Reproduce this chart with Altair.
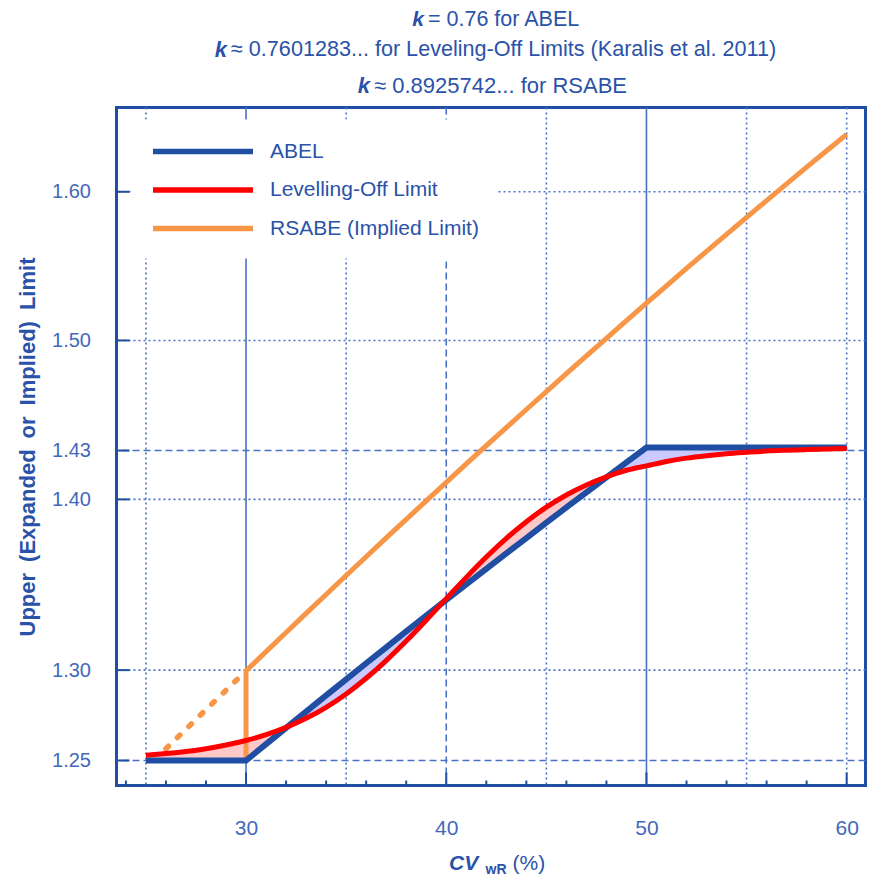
import altair as alt
import pandas as pd

# ---------------- data ----------------
cv = [25, 26, 27, 28, 29, 30, 31, 32, 33, 34, 35, 36, 37, 38, 39, 40, 41, 42,
      43, 44, 45, 46, 47, 48, 49, 50, 51, 52, 53, 54, 55, 56, 57, 58, 59, 60]
abel = [1.2500, 1.2500, 1.2500, 1.2500, 1.2500, 1.2500, 1.2589, 1.2678, 1.2768,
        1.2858, 1.2948, 1.3039, 1.3129, 1.3220, 1.3311, 1.3402, 1.3493, 1.3584,
        1.3676, 1.3767, 1.3859, 1.3951, 1.4043, 1.4135, 1.4227, 1.4319, 1.4319,
        1.4319, 1.4319, 1.4319, 1.4319, 1.4319, 1.4319, 1.4319, 1.4319, 1.4319]
levelling = [1.2529, 1.2538, 1.2549, 1.2564, 1.2584, 1.2609, 1.2641, 1.2681, 1.2731,
             1.2792, 1.2866, 1.2954, 1.3054, 1.3165, 1.3285, 1.3410, 1.3534, 1.3654,
             1.3765, 1.3865, 1.3953, 1.4027, 1.4088, 1.4138, 1.4178, 1.4205, 1.4232,
             1.4253, 1.4268, 1.4280, 1.4289, 1.4297, 1.4302, 1.4306, 1.4309, 1.4312]
rsabe_cv = [30, 30, 31, 32, 33, 34, 35, 36, 37, 38, 39, 40, 41, 42, 43, 44, 45,
            46, 47, 48, 49, 50, 51, 52, 53, 54, 55, 56, 57, 58, 59, 60]
rsabe = [1.2500, 1.2996, 1.3105, 1.3214, 1.3324, 1.3434, 1.3545, 1.3656, 1.3768,
         1.3879, 1.3991, 1.4104, 1.4217, 1.4330, 1.4443, 1.4557, 1.4671, 1.4785,
         1.4900, 1.5014, 1.5129, 1.5245, 1.5360, 1.5476, 1.5591, 1.5707, 1.5823,
         1.5939, 1.6055, 1.6172, 1.6287, 1.6404]
rsabe_ext_cv = [26, 27, 28, 29, 30]
rsabe_ext = [1.2564, 1.2671, 1.2779, 1.2887, 1.2996]

series = ["ABEL", "Levelling-Off Limit", "RSABE (Implied Limit)"]
series_colors = ["#1f4ea3", "#ff0000", "#f79646"]

vgrid_x = [25, 30, 35, 40, 45, 50, 55, 60]
vgrid_style = ["dot", "solid", "dot", "dash", "dot", "solid", "dot", "dot"]
hgrid_y = [1.25, 1.30, 1.40, 1.43, 1.50, 1.60]
hgrid_style = ["dash", "dot", "dot", "dash", "dot", "dot"]
x_major = [30, 40, 50, 60]
x_minor = [24, 26, 28, 32, 34, 36, 38, 42, 44, 46, 48, 52, 54, 56, 58]

# ---------------- tables ----------------
df_abel = pd.DataFrame({"cv": cv, "val": abel, "series": series[0]})
df_lev = pd.DataFrame({"cv": cv, "val": levelling, "series": series[1]})
df_rs = pd.DataFrame({"cv": rsabe_cv, "val": rsabe, "series": series[2],
                      "i": list(range(len(rsabe_cv)))})
df_ext = pd.DataFrame({"cv": rsabe_ext_cv, "val": rsabe_ext})
df_fill = pd.DataFrame({"cv": cv, "abel": abel, "lev": levelling,
                        "hi": [max(a, b) for a, b in zip(abel, levelling)]})
df_vg = pd.DataFrame({"cv": vgrid_x, "style": vgrid_style})
df_hg = pd.DataFrame({"val": hgrid_y, "style": hgrid_style})
df_xmaj = pd.DataFrame({"cv": x_major})
df_xmin = pd.DataFrame({"cv": x_minor})
df_yt = pd.DataFrame({"val": hgrid_y})

W, H = 749, 678
FRAME = "#1f4ea3"
GRID = "#4a72c4"
TXT = "#2a52a8"
LAB = "#4468bb"
FONT = "Liberation Sans"
SP = "\u2002"

xs = alt.Scale(domain=[23.53, 60.94], nice=False, zero=False)
ys = alt.Scale(type="log", domain=[1.2365, 1.6596], nice=False, zero=False)
xaxis = alt.Axis(values=x_major, ticks=False, domain=False, grid=False,
                 labelPadding=32, labelFontSize=21, labelColor=LAB,
                 labelFont=FONT, title=None)
yaxis = alt.Axis(values=hgrid_y, format=".2f", ticks=False, domain=False,
                 grid=False, labelPadding=26, labelFontSize=20,
                 labelColor=LAB, labelFont=FONT,
                 title=SP.join(["Upper", "(Expanded", "or", "Implied)", "Limit"]),
                 titleFont=FONT, titleFontSize=22,
                 titleFontWeight="bold", titleColor=TXT,
                 titleX=-89, titleY=H / 2, titleAngle=270,
                 titleBaseline="middle", titleAlign="center")
X = alt.X("cv:Q", scale=xs, axis=xaxis)
Y = alt.Y("val:Q", scale=ys, axis=yaxis)

dash_scale = alt.Scale(domain=["solid", "dash", "dot"],
                       range=[[1, 0], [7, 4], [2, 3]])
color_scale = alt.Scale(domain=series, range=series_colors)

# ---------------- layers ----------------
vgrid = alt.Chart(df_vg).mark_rule(color=GRID, strokeWidth=1.6).encode(
    x=X, strokeDash=alt.StrokeDash("style:N", scale=dash_scale, legend=None))
hgrid = alt.Chart(df_hg).mark_rule(color=GRID, strokeWidth=1.6).encode(
    y=Y, strokeDash=alt.StrokeDash("style:N", scale=dash_scale, legend=None))

fill_pink = alt.Chart(df_fill).mark_area(color="#ffc9c9", opacity=1).encode(
    x=X, y=alt.Y("abel:Q", scale=ys, axis=yaxis), y2="hi:Q")
fill_blue = alt.Chart(df_fill).mark_area(color="#cacaff", opacity=1).encode(
    x=X, y=alt.Y("lev:Q", scale=ys, axis=yaxis), y2="hi:Q")

legend = alt.Legend(
    title=None, orient="none", legendX=14.5, legendY=12,
    symbolType="M-1,0H9", symbolSize=400, symbolStrokeWidth=5.5,
    labelOffset=94, labelFontSize=21, labelFont=FONT,
    labelColor=TXT, labelLimit=400, fillColor="white", padding=19,
    rowPadding=14.5,
)
C = alt.Color("series:N", scale=color_scale, legend=legend)

line_rs = alt.Chart(df_rs).mark_line(strokeWidth=5, strokeCap="butt").encode(
    x=X, y=Y, order="i:Q", color=C)
line_ext = alt.Chart(df_ext).mark_line(
    strokeWidth=5.5, strokeDash=[3.5, 12.5], strokeCap="round", color="#f79646"
).encode(x=X, y=Y)
line_abel = alt.Chart(df_abel).mark_line(strokeWidth=6).encode(x=X, y=Y, color=C)
line_lev = alt.Chart(df_lev).mark_line(strokeWidth=5, interpolate="monotone").encode(
    x=X, y=Y, color=C)

tick_major = alt.Chart(df_xmaj).mark_rule(color=FRAME, strokeWidth=2).encode(
    x=X, y=alt.value(H), y2=alt.value(H - 13))
tick_minor = alt.Chart(df_xmin).mark_rule(color=FRAME, strokeWidth=2).encode(
    x=X, y=alt.value(H), y2=alt.value(H - 5))
tick_y = alt.Chart(df_yt).mark_rule(color=FRAME, strokeWidth=2).encode(
    y=Y, x=alt.value(0), x2=alt.value(13))


def txt(s, x, y, size=22, font=FONT, style="normal", weight="normal",
        align="left", color=TXT):
    return alt.Chart(pd.DataFrame({"s": [s]})).mark_text(
        fontSize=size, font=font, fontStyle=style, fontWeight=weight,
        align=align, baseline="middle", color=color
    ).encode(x=alt.value(x), y=alt.value(y), text="s:N")


titles = [
    txt("k", 307.5, -87.5, size=21, style="italic", weight="bold", align="right"),
    txt("= 0.76 for ABEL", 311.5, -87.5, size=21.5),
    txt("k", 110.5, -57.5, style="italic", weight="bold", align="right"),
    txt("\u2248 0.7601283... for Leveling-Off Limits (Karalis et al. 2011)", 114.5,
        -57.5, size=21.6),
    txt("k", 253.5, -21.5, style="italic", weight="bold", align="right"),
    txt("\u2248 0.8925742... for RSABE", 257.5, -21.5),
    txt("CV", 332.5, 756, size=21, style="italic", weight="bold"),
    txt("wR", 369, 762.5, size=14, weight="bold"),
    txt("(%)", 396, 756, size=21),
]

chart = alt.layer(
    vgrid, hgrid, fill_pink, fill_blue, line_rs, line_ext, line_abel, line_lev,
    tick_major, tick_minor, tick_y, *titles
).properties(
    width=W, height=H,
    background="white",
    autosize=alt.AutoSizeParams(type="none"),
    padding={"left": 108.5, "top": 99.5, "right": 1.5, "bottom": 92.5},
).configure_view(
    stroke=FRAME, strokeWidth=3
)

chart.save("out.html", embed_options={"renderer": "svg", "actions": False})
